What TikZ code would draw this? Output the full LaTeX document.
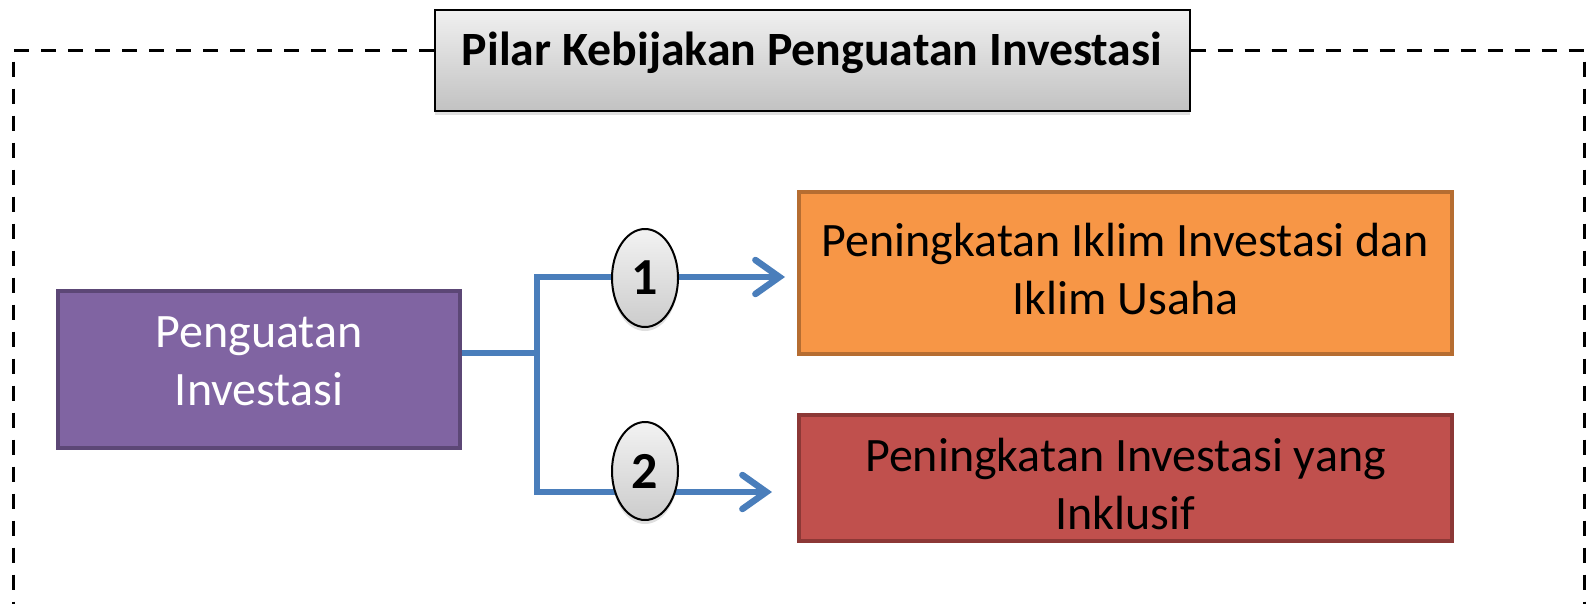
\documentclass[tikz,border=0pt]{standalone}
\usepackage{fontspec}
\setmainfont{Carlito}
\usetikzlibrary{arrows.meta,shadows,calc,shapes.geometric}
\definecolor{purp}{HTML}{8064A2}
\definecolor{purpd}{HTML}{5C4776}
\definecolor{orng}{HTML}{F79646}
\definecolor{orngd}{HTML}{B66D31}
\definecolor{redf}{HTML}{C0504D}
\definecolor{redd}{HTML}{8C3836}
\definecolor{conn}{HTML}{4A7EBB}
\tikzset{
  frameline/.style={line width=3pt, dash pattern=on 15pt off 12pt},
  boxnode/.style={line width=4pt, inner sep=0pt},
  boxtext/.style={align=center, inner sep=0pt, font=\fontsize{48}{58}\selectfont},
  titlebox/.style={draw=black, line width=2pt, top color=gray!12, bottom color=gray!48,
    drop shadow={shadow xshift=0pt, shadow yshift=-4pt, opacity=0.25}},
  numnode/.style={ellipse, draw=black, line width=2pt, top color=gray!10, bottom color=gray!40,
    minimum width=66pt, minimum height=98pt, inner sep=0pt,
    font=\fontsize{52}{52}\selectfont\bfseries,
    drop shadow={shadow xshift=0pt, shadow yshift=-4pt, opacity=0.25}},
  connline/.style={draw=conn, line width=6.5pt},
  tip/.style={-{Straight Barb[length=24pt,width=34pt,line cap=round]}}
}
\begin{document}
\begin{tikzpicture}[x=1pt,y=-1pt]
\useasboundingbox (0,0) rectangle (1586,603);
% title
\node[titlebox, minimum width=755pt, minimum height=101pt] (t) at (812,60.5) {};
\node[font=\fontsize{47.8}{48}\selectfont\bfseries] (tt) at (812,53) {Pilar Kebijakan Penguatan Investasi};
% frame
\draw[frameline] (t.west |- 0,50) -- (13,50) -- (13,650);
\draw[frameline] (t.east |- 0,50) -- (1584,50) -- (1584,650);
% boxes
\node[boxnode, fill=purp, draw=purpd, minimum width=402pt, minimum height=157pt] (p) at (259,369.5) {};
\node[boxtext, text=white] (pt) at (259,361) {Penguatan\\Investasi};
\node[boxnode, fill=orng, draw=orngd, minimum width=653pt, minimum height=162pt] (o) at (1125.5,273) {};
\node[boxtext] (ot) at (1125.5,269) {Peningkatan Iklim Investasi dan\\Iklim Usaha};
\node[boxnode, fill=redf, draw=redd, minimum width=653pt, minimum height=126pt] (r) at (1125.5,478) {};
\node[boxtext] (rt) at (1125.5,484) {Peningkatan Investasi yang\\Inklusif};
% connectors
\coordinate (j) at (537,353);
\coordinate (t1) at (785,277);
\coordinate (t2) at (772,492);
\draw[connline] (p.east |- j) -- (j);
\draw[connline, tip] (j) |- (t1);
\draw[connline, tip] (j) |- (t2);
% numbers
\node[numnode] (n1) at (645,278) {1};
\node[numnode] (n2) at (645,471) {2};
\end{tikzpicture}
\end{document}
